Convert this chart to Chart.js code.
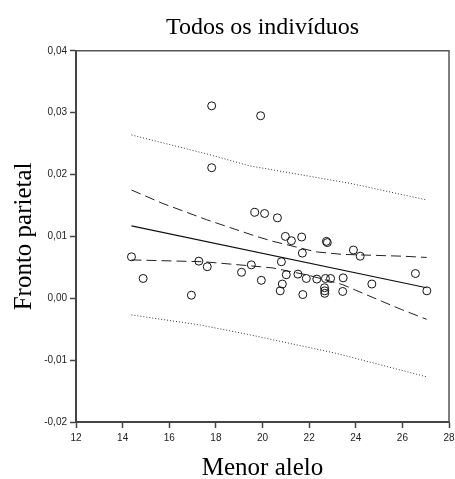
<!DOCTYPE html>
<html lang="pt">
<head>
  <meta charset="UTF-8">
  <title>Todos os indivíduos</title>
  <script src="https://cdn.jsdelivr.net/npm/chart.js"></script>
  <style>
    html, body { margin: 0; padding: 0; background: #fff; }
    #wrap { width: 455px; height: 479px; }
  </style>
</head>
<body>
  <div id="wrap"><canvas id="chart" width="455" height="479"></canvas></div>

  <script>
    // observed values (Menor alelo vs Fronto parietal)
    const alleleX = [14.38, 14.88, 16.95, 17.27, 17.63, 17.82, 17.82, 19.92, 19.10, 19.52,
                     19.67, 20.09, 20.64, 19.95, 20.98, 21.24, 21.68, 22.74, 22.78, 21.71,
                     20.81, 21.02, 20.85, 20.76, 21.52, 21.88, 21.73, 22.33, 22.70, 22.92,
                     22.66, 22.67, 22.67, 23.46, 23.44, 23.90, 24.19, 24.69, 26.56, 27.05];
    const frontoY = [0.0067, 0.0032, 0.0005, 0.0060, 0.0051, 0.0311, 0.0211, 0.0295, 0.0042, 0.0054,
                     0.0139, 0.0137, 0.0130, 0.0029, 0.0100, 0.0093, 0.0099, 0.0092, 0.0090, 0.0073,
                     0.0059, 0.0038, 0.0023, 0.0012, 0.0039, 0.0032, 0.0006, 0.0031, 0.0032, 0.0032,
                     0.0017, 0.0012, 0.0008, 0.0033, 0.0011, 0.0078, 0.0068, 0.0023, 0.0040, 0.0012];

    // regression line
    const fitX = [14.38, 27.04];
    const fitY = [0.0117, 0.0017];

    // confidence band for the mean (dashed)
    const meanHiX = [14.38, 15.67, 17.6, 19.74, 20.45, 22.3, 23.4, 26.0, 27.04];
    const meanHiY = [0.0175, 0.0154, 0.0127, 0.0100, 0.0092, 0.0075, 0.0071, 0.0068, 0.0066];
    const meanLoX = [14.38, 17.5, 19.9, 20.45, 22.0, 23.44, 25.0, 25.95, 27.04];
    const meanLoY = [0.0062, 0.0059, 0.0051, 0.0049, 0.0037, 0.0022, -0.0003, -0.0018, -0.0034];

    // prediction band (dotted)
    const predHiX = [14.38, 17.74, 19.45, 23.73, 27.04];
    const predHiY = [0.0264, 0.0232, 0.0214, 0.0186, 0.0159];
    const predLoX = [14.38, 17.3, 19.45, 23.16, 27.04];
    const predLoY = [-0.0027, -0.0043, -0.0059, -0.0089, -0.0127];

    const xTicks = [12, 14, 16, 18, 20, 22, 24, 26, 28];

    function pairs(xs, ys) {
      return xs.map((x, i) => ({ x: x, y: ys[i] }));
    }

    function lineSet(xs, ys, dash, width, color) {
      return {
        type: 'scatter',
        data: pairs(xs, ys),
        showLine: true,
        borderColor: color,
        borderWidth: width,
        borderDash: dash,
        pointRadius: 0,
        fill: false,
        tension: 0
      };
    }

    // light frame on top and right of the plot area
    const frame = {
      id: 'frame',
      beforeDatasetsDraw(chart) {
        const a = chart.chartArea;
        const ctx = chart.ctx;
        ctx.save();
        ctx.strokeStyle = '#555';
        ctx.lineWidth = 1.5;
        ctx.beginPath();
        ctx.moveTo(a.left, a.top);
        ctx.lineTo(a.right, a.top);
        ctx.lineTo(a.right, a.bottom);
        ctx.stroke();
        ctx.restore();
      }
    };

    const serif = '"Liberation Serif", "Times New Roman", serif';
    const sans = '"Liberation Sans", Arial, sans-serif';

    new Chart(document.getElementById('chart'), {
      type: 'scatter',
      data: {
        datasets: [
          {
            data: pairs(alleleX, frontoY),
            pointStyle: 'circle',
            pointRadius: 4,
            pointBorderWidth: 1,
            pointBorderColor: '#111',
            pointBackgroundColor: 'rgba(0,0,0,0)'
          },
          lineSet(fitX, fitY, [], 1.2, '#111'),
          lineSet(meanHiX, meanHiY, [10, 5], 1, '#222'),
          lineSet(meanLoX, meanLoY, [10, 5], 1, '#222'),
          lineSet(predHiX, predHiY, [1, 2], 1, '#333'),
          lineSet(predLoX, predLoY, [1, 2], 1, '#333')
        ]
      },
      options: {
        responsive: false,
        animation: false,
        layout: { padding: { left: 0, right: 6, top: 0, bottom: 0 } },
        plugins: {
          legend: { display: false },
          tooltip: { enabled: false },
          title: {
            display: true,
            fullSize: false,
            text: 'Todos os indivíduos',
            color: '#000',
            font: { family: serif, size: 24, weight: 'normal', lineHeight: 1.2 },
            padding: { top: 13, bottom: 9 }
          }
        },
        scales: {
          x: {
            type: 'linear',
            min: 12,
            max: 28,
            afterBuildTicks(scale) {
              scale.ticks = xTicks.map(v => ({ value: v }));
            },
            afterFit(scale) {
              scale.height = 57;
              scale.paddingRight = 0;
              scale.paddingLeft = 0;
            },
            ticks: {
              color: '#222',
              font: { family: sans, size: 10 },
              padding: 4,
              maxRotation: 0,
              callback: v => String(v)
            },
            grid: { drawOnChartArea: false, drawTicks: true, tickLength: 6, color: '#444', tickWidth: 1.5 },
            border: { display: true, color: '#444', width: 2 },
            title: {
              display: true,
              text: 'Menor alelo',
              color: '#000',
              font: { family: serif, size: 25, weight: 'normal', lineHeight: 1 },
              padding: { top: 0, bottom: -2 }
            }
          },
          y: {
            type: 'linear',
            min: -0.02,
            max: 0.04,
            afterFit(scale) { scale.width = 76; },
            ticks: {
              stepSize: 0.01,
              color: '#222',
              font: { family: sans, size: 10 },
              padding: 3,
              callback: v => v.toFixed(2).replace('.', ',')
            },
            grid: { drawOnChartArea: false, drawTicks: true, tickLength: 6, color: '#444', tickWidth: 1.5 },
            border: { display: true, color: '#444', width: 2 },
            title: {
              display: true,
              text: 'Fronto parietal',
              color: '#000',
              font: { family: serif, size: 25, weight: 'normal', lineHeight: 1.2 },
              padding: { top: 9, bottom: 0 }
            }
          }
        }
      },
      plugins: [frame]
    });
  </script>
</body>
</html>
